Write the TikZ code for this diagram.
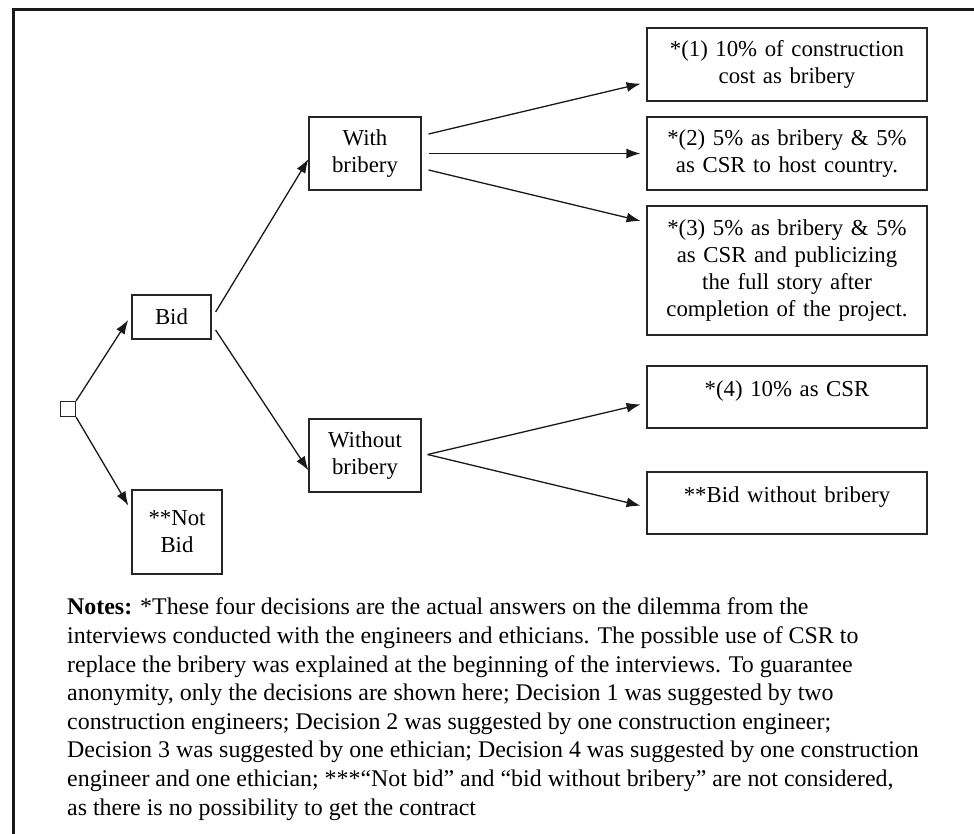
\documentclass[tikz,border=0pt]{standalone}
\usepackage{fontspec}
\setmainfont{Liberation Serif}
\usetikzlibrary{arrows.meta,calc}

\tikzset{
  box/.style={draw=black!85, line width=1.2pt, align=center, inner sep=0pt,
    font=\fontsize{22.8}{27}\selectfont},
  decbox/.style={box, minimum width=280pt, text width=270pt},
  arr/.style={-{Latex[length=14pt,width=10pt]}, line width=1.3pt, black!90},
}

\begin{document}
\begin{tikzpicture}[x=1pt,y=1pt]
  \useasboundingbox (0,0) rectangle (974,-833);
  % frame
  \draw[line width=3pt, black!90] (13,-840) -- (13,-9) -- (980,-9);
  % tree
  \node[box, minimum size=15pt] (start) at (68,-409) {};
  \node[box, minimum width=79pt, minimum height=44pt] (bid) at (171.5,-317) {Bid};
  \node[box, minimum width=90pt, minimum height=84pt] (notbid) at (177,-532) {**Not\\Bid};
  \node[box, minimum width=112pt, minimum height=73pt] (withb) at (365,-153.5) {With\\bribery};
  \node[box, minimum width=112pt, minimum height=73pt] (withoutb) at (365,-455.5) {Without\\bribery};
  % decisions
  \node[decbox, minimum height=73pt] (d1) at (787,-64.5) {*(1) 10\% of construction\\cost as bribery};
  \node[decbox, minimum height=73pt] (d2) at (787,-153.5) {*(2) 5\% as bribery \& 5\%\\as CSR to host country.};
  \node[decbox, minimum height=129pt] (d3) at (787,-270.5) {*(3) 5\% as bribery \& 5\%\\as CSR and publicizing\\the full story after\\completion of the project.};
  \node[decbox, minimum height=62pt, text depth=16pt] (d4) at (787,-397) {*(4) 10\% as CSR};
  \node[decbox, minimum height=62pt, text depth=16pt] (d5) at (787,-503) {**Bid without bribery};
  % arrows
  \draw[arr, shorten >=6pt] (start.north east) -- ($(bid.west)+(0,2)$);
  \draw[arr, shorten >=6pt] (start.south east) -- ($(notbid.west)!0.5!(notbid.north west)$);
  \draw[arr] ($(bid.east)+(4,5)$) -- ($(withb.west)!0.15!(withb.south west)$);
  \draw[arr] ($(bid.east)+(4,-13)$) -- ($(withoutb.west)!0.4!(withoutb.south west)$);
  \draw[arr, shorten >=6pt] ($(withb.east)+(7,19.5)$) -- ($(d1.west)!0.48!(d1.south west)$);
  \draw[arr, shorten >=6pt] ($(withb.east)+(7,0)$) -- (d2.west);
  \draw[arr, shorten >=6pt] ($(withb.east)+(7,-16.5)$) -- ($(d3.west)!0.74!(d3.north west)$);
  \coordinate (fork) at ($(withoutb.east)+(6,1)$);
  \draw[arr, shorten >=6pt] (fork) -- ($(d4.west)!0.19!(d4.south west)$);
  \draw[arr, shorten >=6pt] (fork) -- ($(d5.west)!0.13!(d5.south west)$);
  % notes
  \node[anchor=base west, align=left, inner sep=0pt, font=\fontsize{23.9}{28.6}\selectfont] (notes) at (67,-815)
    {\textbf{Notes:} *These four decisions are the actual answers on the dilemma from the\\
     interviews conducted with the engineers and ethicians. The possible use of CSR to\\
     replace the bribery was explained at the beginning of the interviews. To guarantee\\
     anonymity, only the decisions are shown here; Decision 1 was suggested by two\\
     construction engineers; Decision 2 was suggested by one construction engineer;\\
     Decision 3 was suggested by one ethician; Decision 4 was suggested by one construction\\
     engineer and one ethician; ***“Not bid” and “bid without bribery” are not considered,\\
     as there is no possibility to get the contract};
\end{tikzpicture}
\end{document}
